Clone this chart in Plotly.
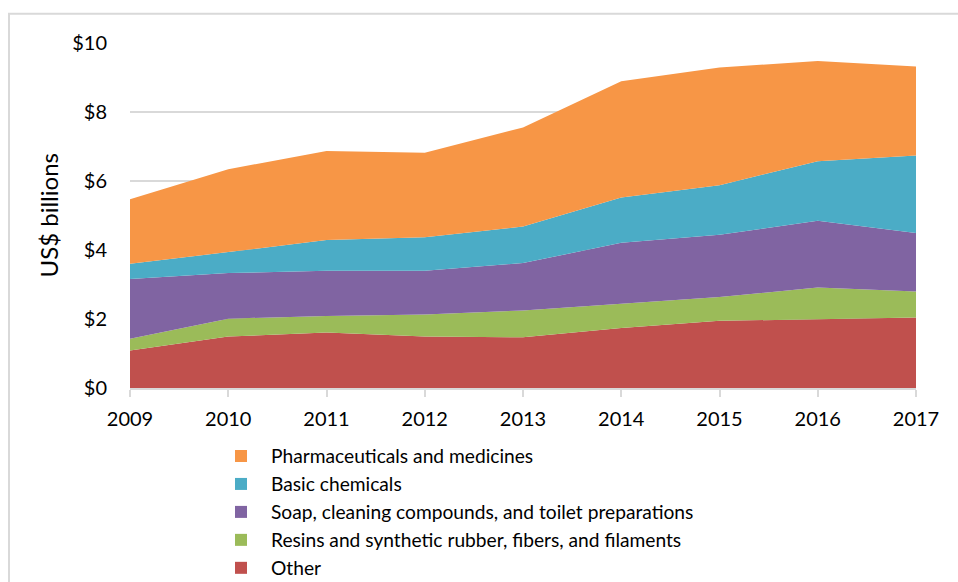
import plotly.graph_objects as go

years = [2009, 2010, 2011, 2012, 2013, 2014, 2015, 2016, 2017]
other = [1.09, 1.49, 1.61, 1.49, 1.47, 1.74, 1.95, 1.99, 2.04]
resins = [0.34, 0.52, 0.48, 0.64, 0.78, 0.70, 0.69, 0.92, 0.76]
soap = [1.73, 1.32, 1.31, 1.27, 1.37, 1.77, 1.80, 1.94, 1.69]
basic = [0.44, 0.61, 0.89, 0.97, 1.06, 1.31, 1.44, 1.72, 2.25]
pharma = [1.87, 2.40, 2.58, 2.45, 2.87, 3.37, 3.41, 2.91, 2.58]

series_names = [
    "Other",
    "Resins and synthetic rubber, fibers, and filaments",
    "Soap, cleaning compounds, and toilet preparations",
    "Basic chemicals",
    "Pharmaceuticals and medicines",
]
series_values = [other, resins, soap, basic, pharma]
colors = ["#C0504D", "#9BBB59", "#8064A2", "#4BACC6", "#F79646"]

y_ticks = [0, 2, 4, 6, 8, 10]
y_tick_labels = ["$0", "$2", "$4", "$6", "$8", "$10"]
y_title = "US$ billions"

FONT = "Lato"
W, H = 958, 582
L, R, T, B = 130, 916, 42.7, 388.3
pw, ph = R - L, B - T

fig = go.Figure()
for name, vals, col in zip(series_names, series_values, colors):
    fig.add_trace(go.Scatter(
        x=years, y=vals, name=name, stackgroup="one", mode="none",
        fillcolor=col, line=dict(width=0), showlegend=False, hoverinfo="x+y+name",
    ))
# legend entries, top to bottom
for name, col in reversed(list(zip(series_names, colors))):
    fig.add_trace(go.Scatter(
        x=[None], y=[None], name=name, mode="markers",
        marker=dict(symbol="square", size=12, color=col),
        showlegend=True,
    ))

fig.update_layout(
    width=W, height=H,
    margin=dict(l=L, r=W - R, t=T, b=H - B, pad=0, autoexpand=False),
    paper_bgcolor="white", plot_bgcolor="white",
    font=dict(family=FONT, size=20, color="#000000"),
    showlegend=True,
    legend=dict(
        orientation="v", traceorder="normal",
        xref="container", yref="container",
        x=211 / W, xanchor="left",
        y=1 - 437 / H, yanchor="top",
        font=dict(family=FONT, size=19.2, color="#000000"),
        itemwidth=50, bgcolor="rgba(0,0,0,0)",
    ),
    xaxis=dict(
        range=[2009, 2017], tickmode="array", tickvals=years,
        ticktext=[str(y) for y in years],
        showgrid=False, showline=True, linecolor="#D9D9D9", linewidth=2,
        ticks="outside", ticklen=7, tickcolor="#D9D9D9", tickwidth=2,
        ticklabelstandoff=5, automargin=False,
        tickfont=dict(family=FONT, size=20), zeroline=False,
    ),
    yaxis=dict(
        range=[0, 10], tickmode="array", tickvals=y_ticks, ticktext=y_tick_labels,
        showgrid=True, gridcolor="#D9D9D9", gridwidth=2, zeroline=False,
        showline=False, ticks="", ticklabelstandoff=22, automargin=False,
        tickfont=dict(family=FONT, size=20),
    ),
    annotations=[dict(
        text=y_title, xref="paper", yref="paper",
        x=(48 - L) / pw, y=0.5, xanchor="center", yanchor="middle",
        textangle=-90, showarrow=False,
        font=dict(family=FONT, size=24, color="#000000"),
    )],
    shapes=[dict(
        type="rect", xref="paper", yref="paper",
        x0=(9 - L) / pw, x1=(975 - L) / pw,
        y0=(B - 600) / ph, y1=(B - 13.5) / ph,
        line=dict(color="#D9D9D9", width=2), fillcolor="rgba(0,0,0,0)", layer="below",
    )],
)

fig.write_html(
    "out.html",
    config={"displayModeBar": False},
    post_script="document.body.style.margin='0';",
)
